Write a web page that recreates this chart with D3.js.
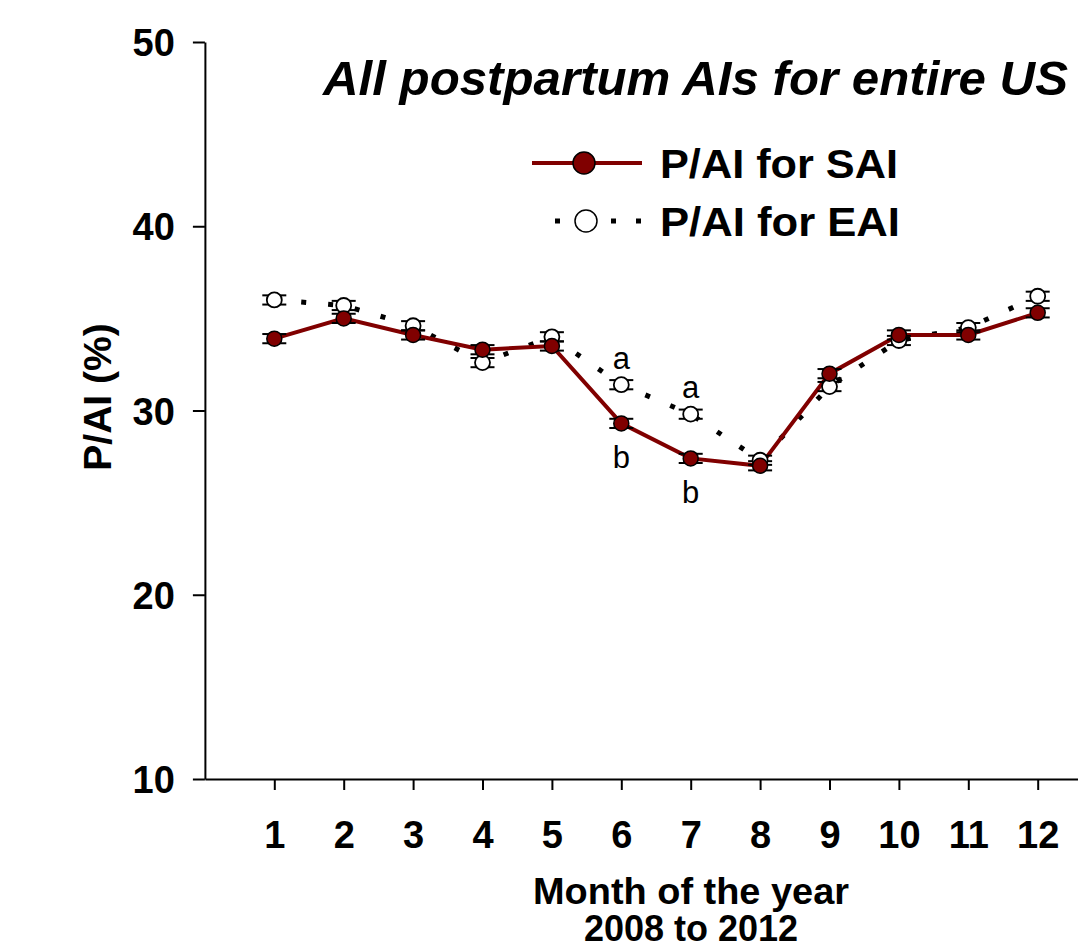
<!DOCTYPE html>
<html>
<head>
<meta charset="utf-8">
<script src="https://cdn.jsdelivr.net/npm/d3@7"></script>
<style>
  html, body { margin: 0; padding: 0; background: #fff; }
  svg { display: block; font-family: "Liberation Sans", Arial, sans-serif; }
</style>
</head>
<body>
<svg id="chart" width="1078" height="951"></svg>
<script>
// ---- data ----
const months = [1, 2, 3, 4, 5, 6, 7, 8, 9, 10, 11, 12];
const saiValues = [33.9, 35.0, 34.1, 33.3, 33.5, 29.3, 27.4, 27.0, 32.0, 34.1, 34.1, 35.3];
const eaiValues = [36.0, 35.7, 34.6, 32.6, 34.0, 31.4, 29.8, 27.3, 31.3, 33.8, 34.5, 36.2];
const saiErrors = [0.25, 0.25, 0.25, 0.25, 0.25, 0.25, 0.25, 0.25, 0.25, 0.25, 0.25, 0.25];
const eaiErrors = [0.25, 0.25, 0.25, 0.25, 0.25, 0.25, 0.25, 0.25, 0.25, 0.25, 0.25, 0.25];
const yTicks = [10, 20, 30, 40, 50];
const xTicks = [1, 2, 3, 4, 5, 6, 7, 8, 9, 10, 11, 12];
const letterAMonths = [6, 7];   // "a" above EAI
const letterBMonths = [6, 7];   // "b" below SAI
const titleText = "All postpartum AIs for entire US";
const yTitle = "P/AI (%)";
const xTitle1 = "Month of the year";
const xTitle2 = "2008 to 2012";
const saiLabel = "P/AI for SAI";
const eaiLabel = "P/AI for EAI";

// ---- scales ----
const svg = d3.select("#chart");
const x = d3.scaleLinear().domain([0, 13]).range([204.9, 1107.1]);
const y = d3.scaleLinear().domain([10, 50]).range([779, 42]);

const RED = "#800000";
const FS = 38;

// ---- axes ----
const yAxis = svg.append("g").attr("transform", `translate(${x(0)},0)`)
  .call(d3.axisLeft(y).tickValues(yTicks).tickSize(12).tickSizeOuter(0).tickPadding(18));
yAxis.select(".domain").attr("stroke", "#000").attr("stroke-width", 2);
yAxis.selectAll(".tick line").attr("stroke", "#000").attr("stroke-width", 2);
yAxis.selectAll(".tick text").attr("font-size", FS).attr("font-weight", "bold")
  .attr("fill", "#000").attr("dy", "0.36em").attr("font-family", "Liberation Sans, Arial, sans-serif");

const xAxis = svg.append("g").attr("transform", `translate(0,${y(10)})`)
  .call(d3.axisBottom(x).tickValues(xTicks).tickSize(11).tickSizeOuter(0));
xAxis.select(".domain").attr("stroke", "#000").attr("stroke-width", 2);
xAxis.selectAll(".tick line").attr("stroke", "#000").attr("stroke-width", 2);
xAxis.selectAll(".tick text").attr("font-size", FS).attr("font-weight", "bold")
  .attr("fill", "#000").attr("y", 69).attr("dy", 0).attr("font-family", "Liberation Sans, Arial, sans-serif");

// ---- lines ----
const sai = months.map((m, i) => ({ m, v: saiValues[i], e: saiErrors[i] }));
const eai = months.map((m, i) => ({ m, v: eaiValues[i], e: eaiErrors[i] }));
const line = d3.line().x(d => x(d.m)).y(d => y(d.v));

svg.append("path").datum(eai).attr("d", line)
  .attr("fill", "none").attr("stroke", "#000").attr("stroke-width", 5)
  .attr("stroke-dasharray", "5,22");

svg.append("path").datum(sai).attr("d", line)
  .attr("fill", "none").attr("stroke", RED).attr("stroke-width", 4);

// ---- error bars ----
function errorBars(data) {
  const g = svg.append("g").attr("stroke", "#000").attr("stroke-width", 2);
  data.forEach(d => {
    g.append("line").attr("x1", x(d.m)).attr("x2", x(d.m))
      .attr("y1", y(d.v - d.e)).attr("y2", y(d.v + d.e));
    [d.v - d.e, d.v + d.e].forEach(val => {
      g.append("line").attr("x1", x(d.m) - 12).attr("x2", x(d.m) + 12)
        .attr("y1", y(val)).attr("y2", y(val));
    });
  });
}
errorBars(eai);
errorBars(sai);

// ---- markers ----
svg.append("g").selectAll("circle").data(eai).join("circle")
  .attr("cx", d => x(d.m)).attr("cy", d => y(d.v)).attr("r", 7.5)
  .attr("fill", "#fff").attr("stroke", "#000").attr("stroke-width", 1.8);
svg.append("g").selectAll("circle").data(sai).join("circle")
  .attr("cx", d => x(d.m)).attr("cy", d => y(d.v)).attr("r", 7.5)
  .attr("fill", RED).attr("stroke", "#000").attr("stroke-width", 1.5);

// ---- letters ----
svg.append("g").selectAll("text").data(letterAMonths).join("text")
  .attr("x", m => x(m)).attr("y", m => y(eaiValues[months.indexOf(m)]) - 16)
  .attr("text-anchor", "middle").attr("font-size", 31).attr("fill", "#000").text("a");
svg.append("g").selectAll("text").data(letterBMonths).join("text")
  .attr("x", m => x(m)).attr("y", m => y(saiValues[months.indexOf(m)]) + 45)
  .attr("text-anchor", "middle").attr("font-size", 31).attr("fill", "#000").text("b");

// ---- title ----
svg.append("text").attr("x", 323).attr("y", 95)
  .attr("font-size", 48).attr("font-weight", "bold").attr("font-style", "italic")
  .attr("textLength", 745).attr("lengthAdjust", "spacingAndGlyphs")
  .attr("fill", "#000").text(titleText);

// ---- legend ----
const leg = svg.append("g");
leg.append("line").attr("x1", 532).attr("x2", 642).attr("y1", 163).attr("y2", 163)
  .attr("stroke", RED).attr("stroke-width", 4);
leg.append("circle").attr("cx", 584).attr("cy", 163).attr("r", 11)
  .attr("fill", RED).attr("stroke", "#000").attr("stroke-width", 1.5);
leg.append("text").attr("x", 660).attr("y", 178).attr("font-size", 41).attr("font-weight", "bold")
  .attr("textLength", 238).attr("lengthAdjust", "spacingAndGlyphs").text(saiLabel);

leg.append("line").attr("x1", 555).attr("x2", 642).attr("y1", 221).attr("y2", 221)
  .attr("stroke", "#000").attr("stroke-width", 5).attr("stroke-dasharray", "5,51,5,20,5,100");
leg.append("circle").attr("cx", 586).attr("cy", 221).attr("r", 11)
  .attr("fill", "#fff").attr("stroke", "#000").attr("stroke-width", 1.5);
leg.append("text").attr("x", 660).attr("y", 236).attr("font-size", 41).attr("font-weight", "bold")
  .attr("textLength", 240).attr("lengthAdjust", "spacingAndGlyphs").text(eaiLabel);

// ---- axis titles ----
svg.append("text").attr("transform", "translate(111,397) rotate(-90)")
  .attr("text-anchor", "middle").attr("font-size", 39).attr("font-weight", "bold").text(yTitle);
svg.append("text").attr("x", 691).attr("y", 904).attr("text-anchor", "middle")
  .attr("font-size", 37).attr("font-weight", "bold")
  .attr("textLength", 316).attr("lengthAdjust", "spacingAndGlyphs").text(xTitle1);
svg.append("text").attr("x", 691).attr("y", 941).attr("text-anchor", "middle")
  .attr("font-size", 36).attr("font-weight", "bold").text(xTitle2);
</script>
</body>
</html>
